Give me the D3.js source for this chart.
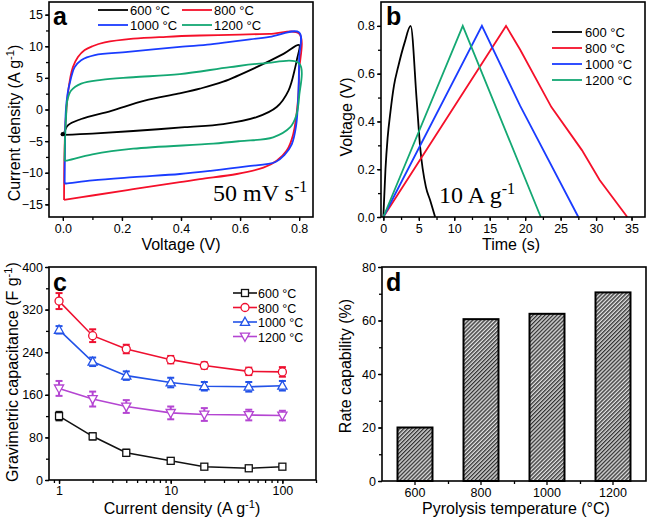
<!DOCTYPE html>
<html><head><meta charset="utf-8">
<script src="https://cdn.jsdelivr.net/npm/d3@7"></script>
<style>
html,body{margin:0;padding:0;background:#fff;}
svg{display:block;}
text{font-family:"Liberation Sans",Arial,sans-serif;fill:#000;}
</style></head>
<body>
<svg id="chart" width="650" height="523"></svg>
<script>
// ---------- DATA ----------
const tempLabels = ["600 °C", "800 °C", "1000 °C", "1200 °C"];
const colorsAB = ["#000000", "#f5102a", "#1a3cff", "#14a873"];
const colorsC = ["#111111", "#ee1030", "#2252e8", "#b445d2"];

// Panel a: CV loops [V, I] (forward then reverse sweep)
const cv600 = [[0.003,-3.9],[0.017,-2.5],[0.062,-1.5],[0.164,-0.2],[0.277,1.4],[0.39,2.5],[0.464,3.3],[0.543,4.4],[0.656,6.7],[0.747,8.8],[0.8,10.2],[0.793,8.0],[0.787,6.7],[0.764,3.0],[0.724,0.4],[0.656,-1.2],[0.543,-2.3],[0.413,-2.8],[0.238,-3.4],[0.1,-3.8],[0.003,-4.0]];
const cv800 = [[0.004,-14.3],[0.005,-8],[0.009,-2],[0.017,2.5],[0.025,5],[0.034,6.7],[0.051,8.3],[0.074,9.4],[0.1,10.0],[0.142,10.6],[0.238,11.2],[0.35,11.5],[0.464,11.7],[0.6,11.85],[0.7,11.95],[0.8,12.0],[0.8,6],[0.796,1.4],[0.78,-3.9],[0.758,-6.5],[0.724,-8.1],[0.679,-9.2],[0.589,-10.2],[0.464,-11.0],[0.396,-11.5],[0.238,-12.6],[0.1,-13.6],[0.004,-14.3]];
const cv1000 = [[0.006,-11.7],[0.007,-6],[0.01,-0.2],[0.016,2.5],[0.023,4.1],[0.04,6.7],[0.062,7.8],[0.108,8.6],[0.22,9.1],[0.396,9.9],[0.5,10.3],[0.6,10.9],[0.7,11.5],[0.8,12.2],[0.8,8],[0.797,2],[0.79,-2.5],[0.775,-5.5],[0.75,-7.2],[0.72,-8.3],[0.622,-9.0],[0.5,-9.7],[0.396,-10.2],[0.238,-10.7],[0.1,-11.2],[0.011,-11.7],[0.006,-11.7]];
const cv1200 = [[0.006,-8.1],[0.007,-5],[0.011,-1],[0.015,1.4],[0.028,3.0],[0.062,4.1],[0.13,4.7],[0.238,5.1],[0.396,5.6],[0.566,6.7],[0.68,7.3],[0.8,7.3],[0.8,2.0],[0.79,-1.0],[0.77,-2.8],[0.712,-4.4],[0.6,-5.0],[0.509,-5.4],[0.238,-6.2],[0.1,-7.1],[0.01,-8.1],[0.006,-8.1]];
const cvSeries = [cv600, cv800, cv1000, cv1200];

// Panel b: galvanostatic charge/discharge [t, V]
const gcd600 = [[0,0],[0.3,0.2],[0.6,0.33],[1.0,0.44],[1.5,0.55],[2.1,0.63],[3.0,0.73],[3.85,0.8],[4.7,0.49],[5.2,0.29],[6.0,0.126],[6.6,0.07],[7.3,0]];
const gcd800 = [[0,0],[17.3,0.8],[19.3,0.70],[23.7,0.46],[28,0.28],[30.5,0.155],[34.4,0]];
const gcd1000 = [[0,0],[13.9,0.8],[19.3,0.465],[27.5,0]];
const gcd1200 = [[0,0],[11.2,0.8],[22.2,0]];
const gcdSeries = [gcd600, gcd800, gcd1000, gcd1200];

// Panel c: rate performance
const currentDensity = [1, 2, 4, 10, 20, 50, 100];
const cap600 = [120, 82, 51, 36, 25, 22, 25];
const cap800 = [336, 271, 246, 226, 215, 204, 203];
const cap1000 = [282, 222, 196, 183, 176, 175, 177];
const cap1200 = [172, 152, 138, 126, 123, 122, 121];
const err600 = [8, 6, 6, 4, 3, 3, 3];
const err800 = [15, 12, 8, 7, 6, 7, 9];
const err1000 = [7, 8, 8, 9, 8, 9, 9];
const err1200 = [14, 14, 12, 12, 12, 10, 9];
const capSeries = [cap600, cap800, cap1000, cap1200];
const errSeries = [err600, err800, err1000, err1200];
const markerTypes = ["square", "circle", "triUp", "triDown"];

// Panel d: rate capability
const pyroTemps = ["600", "800", "1000", "1200"];
const rateCap = [20, 60.5, 62.5, 70.5];

// ---------- DRAW ----------
const svg = d3.select("#chart");
const defs = svg.append("defs");
const pat = defs.append("pattern").attr("id","hatch").attr("patternUnits","userSpaceOnUse")
  .attr("width",2.8).attr("height",2.8).attr("patternTransform","rotate(45)");
pat.append("rect").attr("width",2.8).attr("height",2.8).attr("fill","#e0e0e0");
pat.append("line").attr("x1",0.7).attr("y1",0).attr("x2",0.7).attr("y2",2.8).attr("stroke","#2a2a2a").attr("stroke-width",1.3);

const TICKFONT = "12.5px";
function styleAxis(g){
  g.select(".domain").remove();
  g.selectAll(".tick line").attr("stroke","#000").attr("stroke-width",1.3);
  g.selectAll(".tick text").style("font-size",TICKFONT).style("font-family","'Liberation Sans',Arial,sans-serif");
}
function frame(x0,y0,x1,y1){
  svg.append("rect").attr("x",x0).attr("y",y0).attr("width",x1-x0).attr("height",y1-y0)
    .attr("fill","none").attr("stroke","#000").attr("stroke-width",1.6);
}
function supText(sel, parts){
  parts.forEach(([t,s])=>{
    const ts = sel.append("tspan").text(t);
    if(s){ ts.attr("baseline-shift","super").style("font-size","70%"); }
  });
}
function panelLabel(x,y,t){
  svg.append("text").attr("x",x).attr("y",y).text(t)
    .style("font-size","25px").style("font-weight","bold");
}
function yTitle(cx,cy,parts){
  const t = svg.append("text").attr("transform",`translate(${cx},${cy}) rotate(-90)`)
    .attr("text-anchor","middle").style("font-size","16px");
  supText(t, parts);
}
function xTitle(cx,y,parts){
  const t = svg.append("text").attr("x",cx).attr("y",y).attr("text-anchor","middle").style("font-size","16px");
  supText(t, parts);
}

// ===== Panel a =====
{
  const L=49, R=313, T=2, B=217;
  const x = d3.scaleLinear().domain([-0.047,0.847]).range([L,R]);
  const y = d3.scaleLinear().domain([-17,17]).range([B,T]);
  const line = d3.line().x(d=>x(d[0])).y(d=>y(d[1])).curve(d3.curveCatmullRom.alpha(0.5));
  const g = svg.append("g");
  cvSeries.forEach((s,i)=>{
    g.append("path").attr("d",line(s)).attr("fill","none").attr("stroke",colorsAB[i]).attr("stroke-width",1.8);
  });
  g.append("circle").attr("cx",x(cv600[0][0])-1).attr("cy",y(-3.9)).attr("r",2.2).attr("fill","#000");
  svg.append("g").attr("transform",`translate(0,${B})`).call(d3.axisBottom(x).tickValues([0,0.1,0.2,0.3,0.4,0.5,0.6,0.7,0.8]).tickSize(3).tickFormat("")).call(styleAxis);
  svg.append("g").attr("transform",`translate(0,${B})`).call(d3.axisBottom(x).tickValues([0,0.2,0.4,0.6,0.8]).tickSize(4).tickPadding(3).tickFormat(d3.format(".1f"))).call(styleAxis);
  svg.append("g").attr("transform",`translate(${L},0)`).call(d3.axisLeft(y).tickValues(d3.range(-15,16,2.5)).tickSize(3).tickFormat("")).call(styleAxis);
  svg.append("g").attr("transform",`translate(${L},0)`).call(d3.axisLeft(y).tickValues(d3.range(-15,16,5)).tickSize(4).tickPadding(2)).call(styleAxis);
  frame(L,T,R,B);
  panelLabel(53,25,"a");
  const lg = [[98,10],[182,10],[98,25],[182,25]];
  tempLabels.forEach((t,i)=>{
    svg.append("line").attr("x1",lg[i][0]).attr("x2",lg[i][0]+30).attr("y1",lg[i][1]).attr("y2",lg[i][1]).attr("stroke",colorsAB[i]).attr("stroke-width",1.8);
    svg.append("text").attr("x",lg[i][0]+32).attr("y",lg[i][1]+5).text(t).style("font-size","13px");
  });
  const ann = svg.append("text").attr("x",213).attr("y",201).style("font-family","'Liberation Serif','Times New Roman',serif").style("font-size","24px");
  ann.append("tspan").text("50 mV s");
  ann.append("tspan").text("-1").attr("dy",-9).style("font-size","16px");
  xTitle(181,250,[["Voltage (V)",false]]);
  yTitle(20,123,[["Current density (A g",false],["-1",true],[")",false]]);
}

// ===== Panel b =====
{
  const L=381, R=645, T=2, B=217;
  const x = d3.scaleLinear().domain([-0.33,36.9]).range([L,R]);
  const y = d3.scaleLinear().domain([0,0.9]).range([B,T]);
  gcdSeries.forEach((s,i)=>{
    const ln = d3.line().x(d=>x(d[0])).y(d=>y(d[1]));
    if(i===0) ln.curve(d3.curveMonotoneX);
    svg.append("path").attr("d",ln(s)).attr("fill","none").attr("stroke",colorsAB[i]).attr("stroke-width",1.8);
  });
  svg.append("g").attr("transform",`translate(0,${B})`).call(d3.axisBottom(x).tickValues(d3.range(0,36,2.5)).tickSize(3).tickFormat("")).call(styleAxis);
  svg.append("g").attr("transform",`translate(0,${B})`).call(d3.axisBottom(x).tickValues(d3.range(0,36,5)).tickSize(4).tickPadding(3)).call(styleAxis);
  svg.append("g").attr("transform",`translate(${L},0)`).call(d3.axisLeft(y).tickValues(d3.range(0,0.81,0.1)).tickSize(3).tickFormat("")).call(styleAxis);
  svg.append("g").attr("transform",`translate(${L},0)`).call(d3.axisLeft(y).tickValues([0,0.2,0.4,0.6,0.8]).tickSize(4).tickPadding(2).tickFormat(d3.format(".1f"))).call(styleAxis);
  frame(L,T,R,B);
  panelLabel(386,25,"b");
  tempLabels.forEach((t,i)=>{
    const yy = 32 + i*16;
    svg.append("line").attr("x1",552).attr("x2",582).attr("y1",yy).attr("y2",yy).attr("stroke",colorsAB[i]).attr("stroke-width",1.8);
    svg.append("text").attr("x",585).attr("y",yy+5).text(t).style("font-size","13px");
  });
  const ann = svg.append("text").attr("x",439).attr("y",203).style("font-family","'Liberation Serif','Times New Roman',serif").style("font-size","24px");
  ann.append("tspan").text("10 A g");
  ann.append("tspan").text("-1").attr("dy",-9).style("font-size","16px");
  xTitle(511,250,[["Time (s)",false]]);
  yTitle(352,117,[["Voltage (V)",false]]);
}

// ===== Panel c =====
function marker(g, type, cx, cy, color){
  const r = 4;
  if(type==="square") g.append("rect").attr("x",cx-3.5).attr("y",cy-3.5).attr("width",7).attr("height",7).attr("fill","#fff").attr("stroke",color).attr("stroke-width",1.3);
  else if(type==="circle") g.append("circle").attr("cx",cx).attr("cy",cy).attr("r",r).attr("fill","#fff").attr("stroke",color).attr("stroke-width",1.3);
  else if(type==="triUp") g.append("path").attr("d",`M${cx},${cy-4.8}L${cx+4.6},${cy+3.4}L${cx-4.6},${cy+3.4}Z`).attr("fill","#fff").attr("stroke",color).attr("stroke-width",1.3);
  else g.append("path").attr("d",`M${cx},${cy+4.8}L${cx+4.6},${cy-3.4}L${cx-4.6},${cy-3.4}Z`).attr("fill","#fff").attr("stroke",color).attr("stroke-width",1.3);
}
{
  const L=49, R=316, T=267, B=480;
  const x = d3.scaleLog().domain([0.813,200]).range([L,R]);
  const y = d3.scaleLinear().domain([0,400]).range([B,T]);
  const line = d3.line().x((d,i)=>x(currentDensity[i])).y(d=>y(d));
  capSeries.forEach((s,i)=>{
    const g = svg.append("g");
    g.append("path").attr("d",line(s)).attr("fill","none").attr("stroke",colorsC[i]).attr("stroke-width",1.6);
    s.forEach((v,j)=>{
      const cx = x(currentDensity[j]), e = errSeries[i][j];
      g.append("line").attr("x1",cx).attr("x2",cx).attr("y1",y(v-e)).attr("y2",y(v+e)).attr("stroke",colorsC[i]).attr("stroke-width",2);
      [v-e,v+e].forEach(ev=>g.append("line").attr("x1",cx-3.5).attr("x2",cx+3.5).attr("y1",y(ev)).attr("y2",y(ev)).attr("stroke",colorsC[i]).attr("stroke-width",2));
      marker(g, markerTypes[i], cx, y(v), colorsC[i]);
    });
  });
  const minors = [0.9];
  [1,10,100].forEach(d=>{for(let k=1;k<=9;k++){const v=d*k; if(v>=0.813&&v<=200) minors.push(v);} });
  svg.append("g").attr("transform",`translate(0,${B})`).call(d3.axisBottom(x).tickValues(minors).tickSize(3).tickFormat("")).call(styleAxis);
  svg.append("g").attr("transform",`translate(0,${B})`).call(d3.axisBottom(x).tickValues([1,10,100]).tickSize(4).tickPadding(2).tickFormat(d3.format("d"))).call(styleAxis);
  svg.append("g").attr("transform",`translate(${L},0)`).call(d3.axisLeft(y).tickValues(d3.range(0,401,40)).tickSize(3).tickFormat("")).call(styleAxis);
  svg.append("g").attr("transform",`translate(${L},0)`).call(d3.axisLeft(y).tickValues(d3.range(0,401,80)).tickSize(4).tickPadding(2)).call(styleAxis);
  frame(L,T,R,B);
  panelLabel(53,291,"c");
  tempLabels.forEach((t,i)=>{
    const yy = 293 + i*14.5;
    const g = svg.append("g");
    g.append("line").attr("x1",233).attr("x2",257).attr("y1",yy).attr("y2",yy).attr("stroke",colorsC[i]).attr("stroke-width",1.6);
    marker(g, markerTypes[i], 245, yy, colorsC[i]);
    svg.append("text").attr("x",258).attr("y",yy+5).text(t).style("font-size","12.5px");
  });
  xTitle(182,514,[["Current density (A g",false],["-1",true],[")",false]]);
  yTitle(18,372,[["Gravimetric capacitance (F g",false],["-1",true],[")",false]]);
}

// ===== Panel d =====
{
  const L=382, R=646, T=267, B=481;
  const x = d3.scaleBand().domain(pyroTemps).range([L,R]).paddingInner(0.47).paddingOuter(0.235);
  const y = d3.scaleLinear().domain([0,80]).range([B,T]);
  svg.append("g").selectAll("rect").data(rateCap).join("rect")
    .attr("x",(d,i)=>x(pyroTemps[i])).attr("width",x.bandwidth())
    .attr("y",d=>y(d)).attr("height",d=>B-y(d))
    .attr("fill","url(#hatch)").attr("stroke","#000").attr("stroke-width",2);
  svg.append("g").attr("transform",`translate(0,${B})`).call(d3.axisBottom(x).tickSize(4).tickPadding(3)).call(styleAxis);
  const xm = d3.scaleLinear().domain([0,4]).range([L,R]);
  svg.append("g").attr("transform",`translate(0,${B})`).call(d3.axisBottom(xm).tickValues([1,2,3]).tickSize(3).tickFormat("")).call(styleAxis);
  svg.append("g").attr("transform",`translate(${L},0)`).call(d3.axisLeft(y).tickValues(d3.range(0,81,10)).tickSize(3).tickFormat("")).call(styleAxis);
  svg.append("g").attr("transform",`translate(${L},0)`).call(d3.axisLeft(y).tickValues(d3.range(0,81,20)).tickSize(4).tickPadding(2)).call(styleAxis);
  frame(L,T,R,B);
  panelLabel(386,291,"d");
  xTitle(516,514,[["Pyrolysis temperature (°C)",false]]);
  yTitle(351,366,[["Rate capability (%)",false]]);
}
</script>
</body></html>
